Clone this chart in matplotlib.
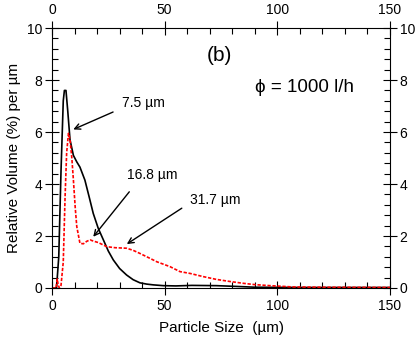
import matplotlib.pyplot as plt
from matplotlib.ticker import MultipleLocator

# particle size distributions
x_black = [0, 2.0, 3.0, 4.0, 5.0, 5.5, 6.2, 7.0, 8.0, 9.5, 11.0, 12.4, 14.6, 16.5, 18.3, 20.5,
           22.8, 25.0, 27.2, 30.0, 33.1, 36.0, 39.0, 42.0, 45.0, 49.4, 55.0, 62.0, 73.0, 82.0,
           90.0, 110.0, 150.0]
y_black = [0, 0, 1.2, 4.5, 7.2, 7.6, 7.6, 6.8, 5.7, 5.1, 4.85, 4.65, 4.15, 3.5, 2.87, 2.3,
           1.85, 1.42, 1.08, 0.75, 0.5, 0.32, 0.2, 0.15, 0.12, 0.09, 0.08, 0.1, 0.09, 0.06,
           0.03, 0.02, 0.02]

x_red = [0, 1.8, 2.3, 2.8, 3.3, 4.0, 5.0, 5.8, 6.5, 7.3, 8.0, 8.8, 9.5, 10.3, 11.0, 12.4, 13.9,
         15.5, 16.9, 18.5, 20.5, 24.3, 28.0, 33.1, 36.0, 39.0, 43.5, 46.5, 52.4, 56.8, 61.3,
         67.0, 73.0, 79.0, 84.9, 90.0, 96.8, 107.0, 120.0, 150.0]
y_red = [0, 0, 0.35, 0.1, 0, 0.1, 1.0, 3.5, 5.2, 5.95, 5.7, 5.0, 4.15, 3.1, 2.36, 1.72, 1.7,
         1.8, 1.85, 1.8, 1.75, 1.59, 1.55, 1.53, 1.45, 1.33, 1.14, 1.01, 0.82, 0.63, 0.56,
         0.44, 0.33, 0.25, 0.18, 0.13, 0.09, 0.04, 0.03, 0.02]

plt.rcParams['font.family'] = ['Liberation Sans', 'DejaVu Sans']
fig = plt.figure(figsize=(4.15, 3.42), dpi=100)
ax = fig.add_axes([0.1253, 0.1579, 0.8145, 0.7601])

ax.plot(x_black, y_black, color='black', lw=1.2)
ax.plot(x_red, y_red, color='red', lw=1.2, linestyle=(0, (2, 1)))

ax.set_xlim(0, 150)
ax.set_ylim(0, 10)
ax.xaxis.set_major_locator(MultipleLocator(50))
ax.xaxis.set_minor_locator(MultipleLocator(10))
ax.yaxis.set_major_locator(MultipleLocator(2))
ax.yaxis.set_minor_locator(MultipleLocator(0.4))
ax.tick_params(which='major', direction='inout', length=10, width=0.8, labelsize=10,
               top=True, right=True, labeltop=True, labelright=True)
ax.tick_params(which='minor', direction='in', length=4, width=0.8,
               top=True, right=True)
ax.tick_params(axis='x', which='major', pad=3)
ax.tick_params(axis='y', which='major', pad=2)

ax.set_xlabel('Particle Size  (µm)', fontsize=11, labelpad=6)
ax.set_ylabel('Relative Volume (%) per µm', fontsize=11, labelpad=4)

ax.text(74.5, 8.95, '(b)', fontsize=15, ha='center', va='center')
ax.text(112, 7.73, 'ϕ = 1000 l/h', fontsize=13.5, ha='center', va='center')

arrow = dict(arrowstyle='->', color='black', lw=1.0, shrinkA=0, shrinkB=0)
ax.text(31.0, 7.1, '7.5 µm', fontsize=10, ha='left', va='center')
ax.annotate('', xy=(9.45, 6.1), xytext=(27.1, 6.77), arrowprops=arrow)
ax.text(33.3, 4.35, '16.8 µm', fontsize=10, ha='left', va='center')
ax.annotate('', xy=(18.3, 1.97), xytext=(34.3, 3.7), arrowprops=arrow)
ax.text(61.3, 3.38, '31.7 µm', fontsize=10, ha='left', va='center')
ax.annotate('', xy=(33.2, 1.69), xytext=(57.6, 3.07), arrowprops=arrow)

fig.savefig('out.png', dpi=100)
